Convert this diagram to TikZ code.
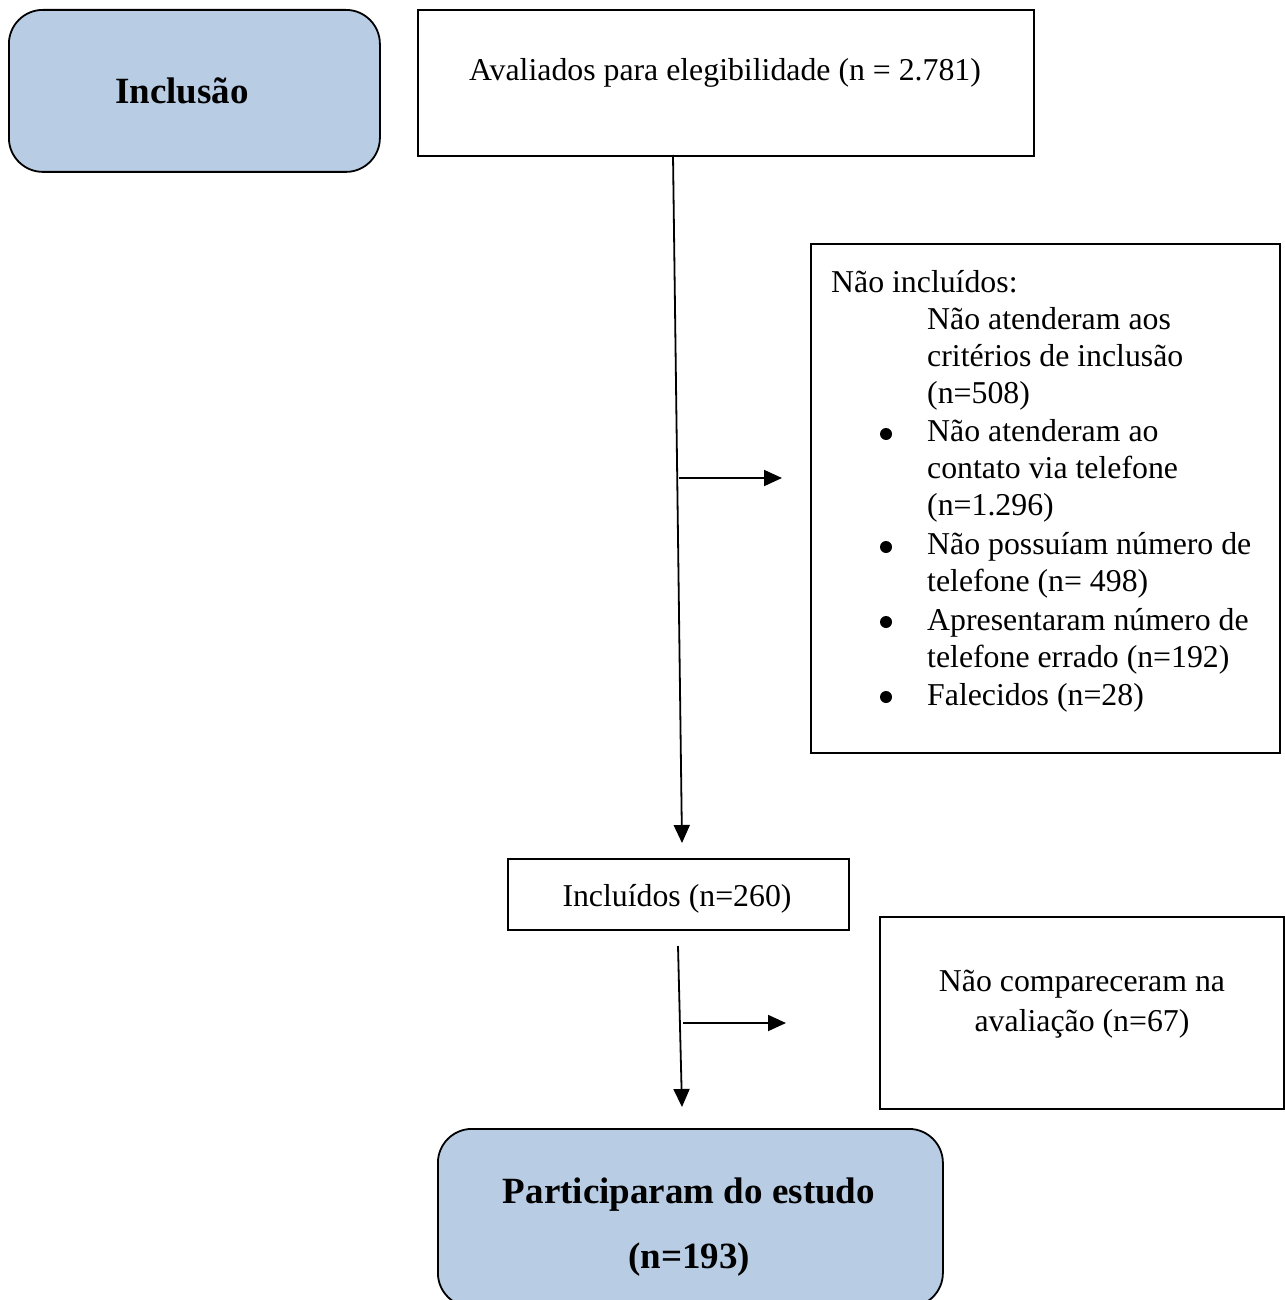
\documentclass[tikz,border=0pt]{standalone}
\usepackage{fontspec}
\setmainfont{Liberation Serif}
\usetikzlibrary{arrows.meta}
\definecolor{boxblue}{HTML}{B8CCE4}
\tikzset{
  x=1pt, y=-1pt,
  plainbox/.style={draw=black, line width=1.8pt, fill=white, anchor=north west, inner sep=0pt, rectangle},
  roundbox/.style={draw=black, line width=1.8pt, fill=boxblue, anchor=north west, inner sep=0pt, rounded corners=34pt, rectangle},
  txt/.style={anchor=base west, inner sep=0pt, font=\fontsize{31.8}{37.5}\selectfont},
  ctxt/.style={anchor=base, inner sep=0pt, font=\fontsize{31.8}{37.5}\selectfont},
  btxt/.style={anchor=base, inner sep=0pt, font=\fontsize{37}{44}\selectfont\bfseries},
  conn/.style={line width=1.8pt, -{Triangle[length=18pt,width=16pt]}},
  bul/.style={circle, fill=black, inner sep=0pt, minimum size=12pt}
}
\begin{document}
\begin{tikzpicture}
\useasboundingbox (0,0) rectangle (1284,1300);
% boxes
\node[roundbox, minimum width=371pt, minimum height=162pt] (incl) at (8,9) {};
\node[plainbox, minimum width=616pt, minimum height=146pt] (aval) at (417,9) {};
\node[plainbox, minimum width=469pt, minimum height=509pt] (naoinc) at (810,243) {};
\node[plainbox, minimum width=341pt, minimum height=71pt] (inc) at (507,858) {};
\node[plainbox, minimum width=404pt, minimum height=192pt] (naocomp) at (879,916) {};
\node[roundbox, minimum width=505pt, minimum height=178pt] (part) at (437,1128) {};
% texts
\node[btxt] (tincl) at (182,104) {Inclusão};
\node[ctxt] (taval) at (725,81) {Avaliados para elegibilidade (n = 2.781)};
\node[txt] (tni) at (831,292) {Não incluídos:};
\node[txt] (l1) at (927,329) {Não atenderam aos};
\node[txt] (l2) at (927,366) {critérios de inclusão};
\node[txt] (l3) at (927,403) {(n=508)};
\node[txt] (l4) at (927,441) {Não atenderam ao};
\node[txt] (l5) at (927,478) {contato via telefone};
\node[txt] (l6) at (927,515) {(n=1.296)};
\node[txt] (l7) at (927,554) {Não possuíam número de};
\node[txt] (l8) at (927,591) {telefone (n= 498)};
\node[txt] (l9) at (927,630) {Apresentaram número de};
\node[txt] (l10) at (927,667) {telefone errado (n=192)};
\node[txt] (l11) at (927,705) {Falecidos (n=28)};
\node[bul] (b1) at (886,434) {};
\node[bul] (b2) at (886,547) {};
\node[bul] (b3) at (886,622) {};
\node[bul] (b4) at (886,697) {};
\node[ctxt] (tinc) at (677,906) {Incluídos (n=260)};
\node[ctxt] (tnc1) at (1082,991) {Não compareceram na};
\node[ctxt] (tnc2) at (1082,1031) {avaliação (n=67)};
\node[btxt] (tp1) at (689,1203) {Participaram do estudo};
\node[btxt] (tp2) at (689,1268) {(n=193)};
% connectors
\coordinate (a1s) at (673,155);
\coordinate (a1e) at (682,843);
\coordinate (h1s) at (679,478);
\coordinate (h1e) at (782,478);
\coordinate (a2s) at (678,946);
\coordinate (a2e) at (682,1107);
\coordinate (h2s) at (683,1023);
\coordinate (h2e) at (786,1023);
\draw[conn] (a1s) -- (a1e);
\draw[conn] (h1s) -- (h1e);
\draw[conn] (a2s) -- (a2e);
\draw[conn] (h2s) -- (h2e);
\end{tikzpicture}
\end{document}
